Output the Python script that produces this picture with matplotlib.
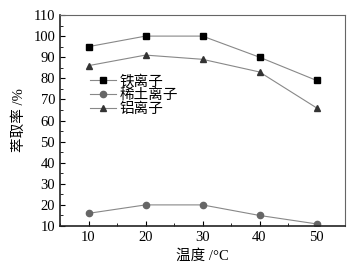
import matplotlib.pyplot as plt
from matplotlib.ticker import MultipleLocator

plt.rcParams['font.family'] = ['Liberation Serif', 'Noto Sans CJK SC']

temps = [10, 20, 30, 40, 50]
fe = [95, 100, 100, 90, 79]
re = [16, 20, 20, 15, 11]
al = [86, 91, 89, 83, 66]
labels = ['铁离子', '稀土离子', '铝离子']

fig = plt.figure(figsize=(3.63, 2.73), dpi=100)
ax = fig.add_axes([60/363, 1-226/273, 285/363, 211/273])

ax.plot(temps, fe, color='#888888', lw=0.8, marker='s', ms=4.5, mfc='black', mec='black', label=labels[0])
ax.plot(temps, re, color='#888888', lw=0.8, marker='o', ms=4.5, mfc='#666666', mec='#666666', label=labels[1])
ax.plot(temps, al, color='#888888', lw=0.8, marker='^', ms=5, mfc='#333333', mec='#333333', label=labels[2])

ax.set_xlim(5, 55)
ax.set_ylim(10, 110)
ax.xaxis.set_major_locator(MultipleLocator(10))
ax.xaxis.set_minor_locator(MultipleLocator(5))
ax.yaxis.set_major_locator(MultipleLocator(10))
ax.yaxis.set_minor_locator(MultipleLocator(5))
ax.tick_params(which='both', direction='in', top=False, right=False, labelsize=10.5)
ax.tick_params(which='major', length=3.5)
ax.tick_params(which='minor', length=2)
for s in ax.spines.values():
    s.set_color('#666666')
    s.set_linewidth(0.8)
ax.spines['left'].set_color('#222222')
ax.spines['bottom'].set_color('#222222')
ax.spines['left'].set_linewidth(1.2)
ax.spines['bottom'].set_linewidth(1.2)

ax.set_xlabel('温度 /°C', fontsize=10.5, labelpad=4)
ax.set_ylabel('萃取率 /%', fontsize=10.5, labelpad=5)

ax.legend(loc='upper left', bbox_to_anchor=(0.07, 0.765), frameon=False, fontsize=10.5,
          handlelength=1.8, handletextpad=0.2, labelspacing=0.0, borderpad=0.2)

fig.savefig('out.png', dpi=100)
